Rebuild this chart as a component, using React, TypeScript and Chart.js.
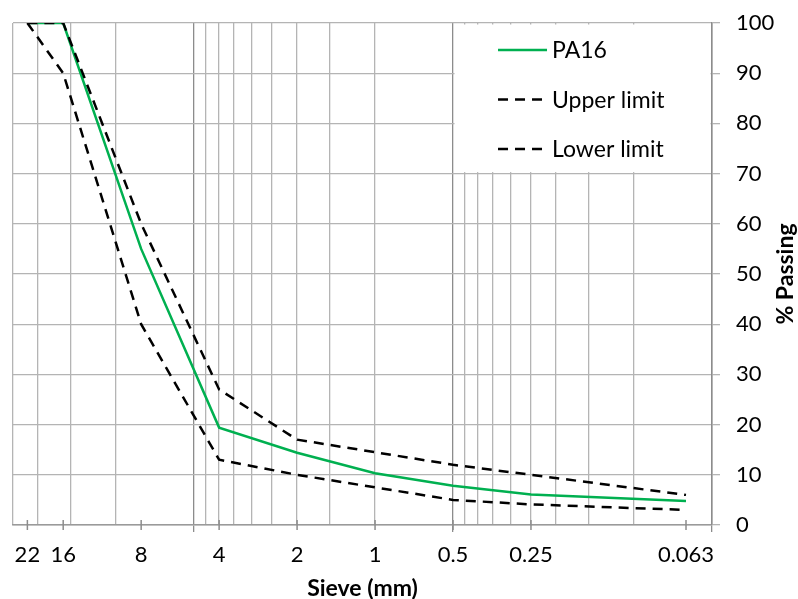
import React, { useEffect, useRef } from 'react';
import { Chart, registerables } from 'chart.js';

Chart.register(...registerables);

// ---- data ----
const sieveSizes = [22, 16, 8, 4, 2, 1, 0.5, 0.25, 0.063];
const sieveLabels = ['22', '16', '8', '4', '2', '1', '0.5', '0.25', '0.063'];
const pa16 = [100, 100, 55, 19.4, 14.4, 10.3, 7.8, 6.1, 4.8];
const upperLimit = [100, 100, 60, 27, 17, 14.5, 12, 10, 6];
const lowerLimit = [100, 90, 40, 13, 10, 7.5, 5, 4.1, 3];
const gridValues = [25, 20, 15, 10, 5, 4.5, 4, 3.5, 3, 2.5, 2, 1.5, 1, 0.5, 0.45, 0.4, 0.35, 0.3, 0.25, 0.2, 0.15, 0.1, 0.05];
const majorGridValues = [5, 0.5, 0.05];
const yTickStep = 10;

const FONT = 'Lato, "Noto Sans", "DejaVu Sans", sans-serif';
const GRID = '#b4b4b4';
const MAJOR = '#8c8c8c';
const GREEN = '#00b050';

const allXTicks = Array.from(new Set([...gridValues, ...sieveSizes])).sort((a, b) => a - b);

const toPoints = (vals: number[]) => sieveSizes.map((s, i) => ({ x: s, y: vals[i] }));

const overlayPlugin = {
  id: 'overlay',
  beforeDatasetsDraw(chart: any) {
    const { ctx, chartArea, scales } = chart;
    const xs = scales.x;
    const ys = scales.y;
    const x0 = xs.getPixelForValue(0.5);
    const y1 = ys.getPixelForValue(70);
    ctx.save();
    ctx.fillStyle = '#ffffff';
    ctx.fillRect(x0 + 1.5, chartArea.top + 1.5, chartArea.right - x0 - 3, y1 - chartArea.top - 3);
    const items = chart.data.datasets.filter((d: any) => d.inLegend);
    items.forEach((ds: any, i: number) => {
      const cy = chartArea.top + 27 + i * 49.5;
      const lx = x0 + 45;
      ctx.strokeStyle = ds.borderColor;
      ctx.lineWidth = ds.borderWidth;
      ctx.setLineDash(ds.borderDash || []);
      ctx.beginPath();
      ctx.moveTo(lx, cy);
      ctx.lineTo(lx + 49, cy);
      ctx.stroke();
      ctx.setLineDash([]);
      ctx.fillStyle = '#000';
      ctx.font = `23px ${FONT}`;
      ctx.textBaseline = 'middle';
      ctx.textAlign = 'left';
      ctx.fillText(ds.label, lx + 54, cy + 1);
    });
    ctx.restore();
  },
  afterDraw(chart: any) {
    const { ctx, chartArea } = chart;
    ctx.save();
    ctx.translate(chart.width - 12, (chartArea.top + chartArea.bottom) / 2);
    ctx.rotate(-Math.PI / 2);
    ctx.font = `bold 23px ${FONT}`;
    ctx.fillStyle = '#000';
    ctx.textAlign = 'center';
    ctx.textBaseline = 'middle';
    ctx.fillText('% Passing', 0, 0);
    ctx.restore();
  },
};

export default function App() {
  const ref = useRef<HTMLCanvasElement | null>(null);

  useEffect(() => {
    if (!ref.current) return;
    Chart.defaults.font.family = FONT;
    const chart = new Chart(ref.current, {
      type: 'scatter',
      data: {
        datasets: [
          {
            label: 'PA16',
            inLegend: true,
            data: toPoints(pa16),
            showLine: true,
            borderColor: GREEN,
            borderWidth: 2.5,
            pointRadius: 0,
            order: 2,
          } as any,
          {
            label: 'Upper limit',
            inLegend: true,
            data: toPoints(upperLimit),
            showLine: true,
            borderColor: '#000',
            borderWidth: 2.5,
            borderDash: [10, 7],
            pointRadius: 0,
            order: 1,
          },
          {
            label: 'Lower limit',
            inLegend: true,
            data: toPoints(lowerLimit),
            showLine: true,
            borderColor: '#000',
            borderWidth: 2.5,
            borderDash: [10, 7],
            pointRadius: 0,
            order: 1,
          },
          {
            label: 'sieve ticks',
            data: sieveSizes.map((s) => ({ x: s, y: 0 })),
            showLine: false,
            pointStyle: 'line',
            pointRotation: 90,
            pointRadius: 5,
            pointBorderColor: MAJOR,
            pointBorderWidth: 1.5,
            clip: false,
            order: 0,
          },
        ],
      },
      options: {
        animation: false,
        responsive: true,
        maintainAspectRatio: false,
        events: [],
        layout: { autoPadding: false, padding: { left: 13, top: 23, right: 0, bottom: 0 } },
        plugins: { legend: { display: false }, tooltip: { enabled: false } },
        scales: {
          x: {
            type: 'logarithmic',
            reverse: true,
            min: 0.05,
            max: 25,
            afterBuildTicks: (scale: any) => {
              scale.ticks = allXTicks.map((v) => ({ value: v }));
            },
            afterFit: (scale: any) => {
              scale.height = 74;
              scale.paddingLeft = 0;
              scale.paddingRight = 0;
            },
            ticks: {
              autoSkip: false,
              maxRotation: 0,
              minRotation: 0,
              padding: 10,
              color: '#000',
              font: { family: FONT, size: 22 },
              callback: (value: any) => {
                const i = sieveSizes.indexOf(Number(value));
                return i >= 0 ? sieveLabels[i] : '';
              },
            },
            grid: {
              color: (ctx: any) => {
                const v = ctx.tick ? ctx.tick.value : NaN;
                if (!gridValues.includes(v)) return 'rgba(0,0,0,0)';
                return majorGridValues.includes(v) ? MAJOR : GRID;
              },
              lineWidth: 1.3,
              tickLength: 7,
              tickColor: (ctx: any) => {
                const v = ctx.tick ? ctx.tick.value : NaN;
                return majorGridValues.includes(v) ? MAJOR : 'rgba(0,0,0,0)';
              },
            },
            border: { color: '#9a9a9a', width: 1.5 },
            title: {
              display: true,
              text: 'Sieve (mm)',
              color: '#000',
              font: { family: FONT, size: 23, weight: 'bold', lineHeight: 0.9 },
              padding: { top: 0, bottom: 0 },
            },
          },
          y: {
            position: 'right',
            min: 0,
            max: 100,
            afterFit: (scale: any) => {
              scale.width = 86;
              scale.paddingTop = 0;
              scale.paddingBottom = 0;
            },
            ticks: {
              stepSize: yTickStep,
              padding: 16,
              color: '#000',
              font: { family: FONT, size: 22 },
            },
            grid: {
              color: GRID,
              lineWidth: 1.3,
              tickLength: 8,
              tickColor: GRID,
            },
            border: { color: MAJOR, width: 1.5 },
          },
        },
      },
      plugins: [overlayPlugin],
    } as any);
    return () => chart.destroy();
  }, []);

  return (
    <div style={{ position: 'absolute', left: 0, top: 0, width: 798, height: 599, background: '#fff' }}>
      <canvas ref={ref} />
    </div>
  );
}
